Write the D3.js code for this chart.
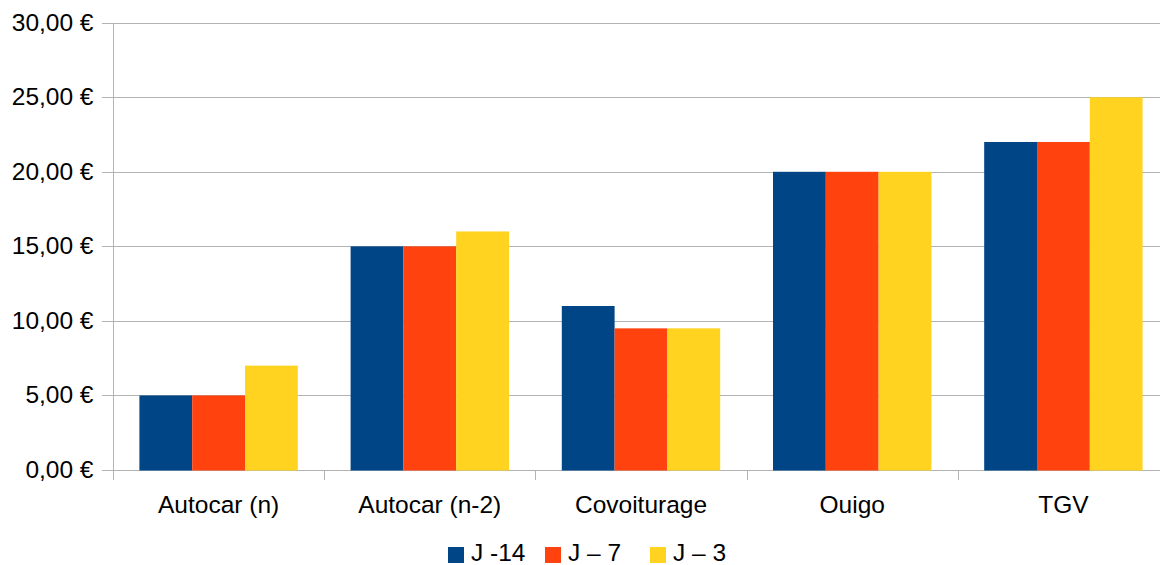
<!DOCTYPE html>
<html>
<head>
<meta charset="utf-8">
<script src="https://cdn.jsdelivr.net/npm/d3@7"></script>
<style>
  html, body { margin: 0; padding: 0; background: #fff; }
  svg { display: block; font-family: "Liberation Sans", Arial, sans-serif; }
</style>
</head>
<body>
<svg id="chart" width="1160" height="565"></svg>
<script>
// Prix par mode de transport selon le délai de réservation
const categories = ["Autocar (n)", "Autocar (n-2)", "Covoiturage", "Ouigo", "TGV"];
const seriesNames = ["J -14", "J \u2013 7", "J \u2013 3"];
const seriesJ14 = [5, 15, 11, 20, 22];
const seriesJ7 = [5, 15, 9.5, 20, 22];
const seriesJ3 = [7, 16, 9.5, 20, 25];
const seriesColors = ["#004586", "#ff420e", "#ffd320"];
const yTicks = [0, 5, 10, 15, 20, 25, 30];

const seriesValues = [seriesJ14, seriesJ7, seriesJ3];

const svg = d3.select("#chart");
const plotLeft = 113, plotRight = 1169, plotTop = 22.7, plotBottom = 470;
const fontSize = 24.5;

const x = d3.scaleBand().domain(categories).range([plotLeft, plotRight]).paddingInner(0).paddingOuter(0);
const xInner = d3.scaleBand().domain(seriesNames)
  .range([0, x.bandwidth()]).paddingInner(0).paddingOuter(0.5);
const y = d3.scaleLinear().domain([0, 30]).range([plotBottom, plotTop]);

const fmt = v => d3.format(".2f")(v).replace(".", ",") + " \u20ac";

// horizontal grid lines with small ticks left of the axis
svg.append("g").selectAll("line").data(yTicks).join("line")
  .attr("x1", plotLeft - 11).attr("x2", 1160)
  .attr("y1", d => Math.round(y(d)) + 0.5).attr("y2", d => Math.round(y(d)) + 0.5)
  .attr("stroke", "#b3b3b3").attr("stroke-width", 1);

// y axis line
svg.append("line")
  .attr("x1", plotLeft + 0.5).attr("x2", plotLeft + 0.5)
  .attr("y1", Math.round(y(30))).attr("y2", plotBottom + 10)
  .attr("stroke", "#b3b3b3");

// category separators below the axis
svg.append("g").selectAll("line").data(categories.slice(1)).join("line")
  .attr("x1", d => Math.round(x(d)) + 0.5).attr("x2", d => Math.round(x(d)) + 0.5)
  .attr("y1", plotBottom).attr("y2", plotBottom + 10)
  .attr("stroke", "#b3b3b3");

// bars
const groups = svg.append("g").selectAll("g").data(categories).join("g")
  .attr("transform", d => `translate(${x(d)},0)`);
groups.selectAll("rect")
  .data((c, i) => seriesNames.map((s, j) => ({ s, j, v: seriesValues[j][i] })))
  .join("rect")
  .attr("x", d => xInner(d.s))
  .attr("width", xInner.bandwidth())
  .attr("y", d => y(d.v))
  .attr("height", d => y(0) - y(d.v) + 0.5)
  .attr("fill", d => seriesColors[d.j]);

// y tick labels
svg.append("g").selectAll("text").data(yTicks).join("text")
  .attr("x", 93.5).attr("y", d => y(d) + 8)
  .attr("text-anchor", "end")
  .attr("font-size", fontSize).attr("fill", "#000")
  .text(fmt);

// category labels
svg.append("g").selectAll("text").data(categories).join("text")
  .attr("x", d => x(d) + x.bandwidth() / 2).attr("y", 513)
  .attr("text-anchor", "middle")
  .attr("font-size", fontSize).attr("fill", "#000")
  .text(d => d);

// legend
const legendX = [448, 545, 650];
const legend = svg.append("g").selectAll("g").data(seriesNames).join("g")
  .attr("transform", (d, i) => `translate(${legendX[i]},547)`);
legend.append("rect").attr("width", 16).attr("height", 16)
  .attr("fill", (d, i) => seriesColors[i]);
legend.append("text").attr("x", 23).attr("y", 14)
  .attr("font-size", fontSize).attr("fill", "#000")
  .text(d => d);
</script>
</body>
</html>
